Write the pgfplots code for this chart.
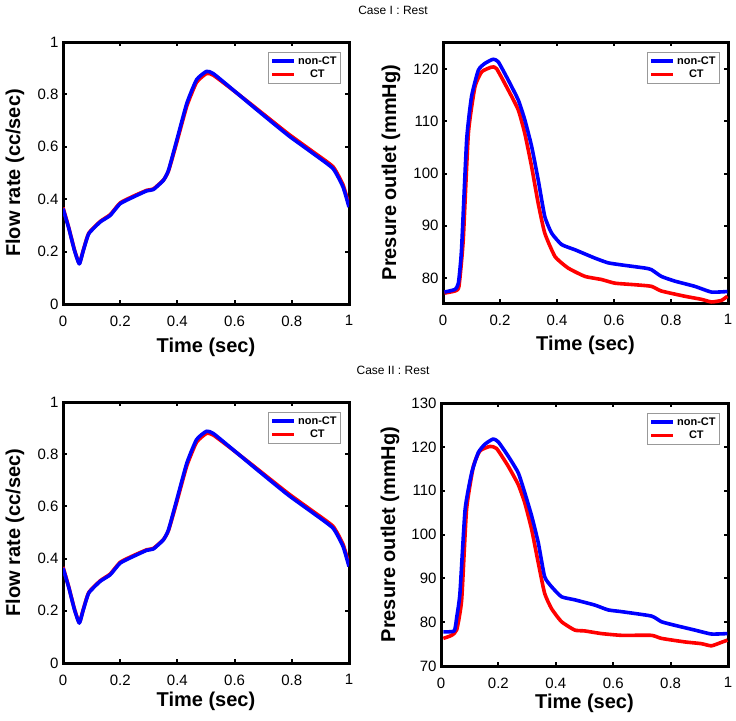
\documentclass[border=0pt]{standalone}
\usepackage{fontspec}
\setmainfont{Liberation Sans}
\usepackage{pgfplots}
\usepackage{pgfplotstable}
\pgfplotsset{compat=1.18}

% flow rate (same in both cases)
\pgfplotstableread{
t q
0.000 0.364
0.020 0.290
0.040 0.205
0.057 0.153
0.070 0.200
0.090 0.268
0.130 0.313
0.165 0.338
0.200 0.383
0.247 0.409
0.293 0.432
0.316 0.437
0.351 0.472
0.369 0.511
0.398 0.626
0.433 0.766
0.467 0.856
0.502 0.888
0.526 0.879
0.595 0.817
0.665 0.753
0.735 0.690
0.793 0.639
0.874 0.575
0.944 0.517
0.979 0.447
1.000 0.370
}\flownon
\pgfplotstableread{
t q
0.000 0.368
0.020 0.292
0.040 0.207
0.057 0.155
0.070 0.202
0.090 0.270
0.130 0.315
0.165 0.341
0.200 0.386
0.247 0.412
0.293 0.434
0.316 0.439
0.351 0.473
0.369 0.508
0.398 0.618
0.433 0.756
0.467 0.846
0.502 0.880
0.526 0.873
0.595 0.816
0.665 0.756
0.735 0.695
0.793 0.645
0.874 0.581
0.944 0.524
0.979 0.455
1.000 0.378
}\flowct

% Case I pressure
\pgfplotstableread{
t p
0.005 77.3
0.042 77.8
0.054 79.0
0.065 85.4
0.083 106.4
0.100 114.7
0.124 119.8
0.147 121.1
0.176 121.9
0.194 121.4
0.229 117.9
0.264 114.1
0.287 110.3
0.311 105.2
0.334 98.8
0.357 91.8
0.381 88.6
0.416 86.4
0.463 85.4
0.533 83.8
0.579 82.9
0.626 82.5
0.708 81.9
0.731 81.6
0.766 80.3
0.813 79.4
0.883 78.4
0.942 77.3
0.998 77.4
}\presAnon
\pgfplotstableread{
t p
0.005 77.1
0.042 77.5
0.056 78.4
0.071 87.3
0.089 107.7
0.112 116.6
0.136 119.5
0.171 120.4
0.188 120.1
0.229 116.0
0.264 112.2
0.287 107.7
0.311 101.3
0.334 94.3
0.357 88.6
0.393 84.1
0.439 81.9
0.498 80.3
0.556 79.7
0.603 79.0
0.673 78.7
0.731 78.4
0.766 77.5
0.848 76.5
0.907 75.9
0.942 75.4
0.977 75.7
0.998 76.5
}\presAct

% Case II pressure
\pgfplotstableread{
t p
0.008 77.8
0.046 78.0
0.055 81.2
0.066 86.6
0.084 105.7
0.107 114.1
0.130 118.7
0.153 120.6
0.182 121.8
0.200 121.1
0.234 117.9
0.269 114.1
0.292 109.5
0.316 104.2
0.339 98.1
0.361 90.4
0.385 88.1
0.420 85.8
0.466 85.1
0.536 83.9
0.582 82.8
0.629 82.4
0.733 81.4
0.768 80.1
0.814 79.3
0.884 78.2
0.942 77.3
0.998 77.4
}\presBnon
\pgfplotstableread{
t p
0.008 76.3
0.037 77.0
0.055 78.3
0.072 85.1
0.089 105.7
0.113 115.6
0.136 119.1
0.171 120.1
0.194 119.6
0.234 115.6
0.269 111.4
0.292 107.2
0.316 101.1
0.339 93.5
0.361 86.6
0.385 83.1
0.420 80.1
0.466 78.2
0.501 78.0
0.559 77.4
0.629 77.0
0.733 77.0
0.768 76.3
0.849 75.5
0.907 75.1
0.942 74.6
0.977 75.4
0.998 75.9
}\presBct

\newcommand\labfont{\bfseries\fontsize{20}{21}\selectfont}

\pgfplotsset{
  panel/.style={
    scale only axis,
    anchor=south west,
    xmin=0, xmax=1,
    xtick={0,0.2,0.4,0.6,0.8,1},
    tick align=inside,
    xtick pos=both, ytick pos=both,
    major tick length=4pt,
    tick style={black, line width=2pt},
    axis line style={black, line width=3pt},
    /pgf/number format/assume math mode=true,
    /pgf/number format/fixed,
    ticklabel style={font=\fontsize{15}{15}\selectfont},
    xticklabel style={yshift=-8pt},
    yticklabel style={xshift=-1pt},
    xlabel={Time (sec)},
    legend style={at={(1,1)}, anchor=north east, xshift=-8pt, yshift=-10pt,
      draw=gray!80, line width=0.8pt, inner sep=2pt, row sep=0.5pt,
      font=\bfseries\fontsize{11}{12}\selectfont, cells={anchor=center}},
    legend image code/.code={\draw[#1] (0pt,0pt) -- (22pt,0pt);},
    reverse legend,
  },
  non/.style={blue, line width=3.6pt, line join=round, smooth, tension=0.3},
  ct/.style={red, line width=3.6pt, line join=round, smooth, tension=0.3},
}

\begin{document}
\begin{tikzpicture}
\path[use as bounding box] (0pt,0pt) rectangle (736pt,-720pt);

\node[font=\fontsize{12}{14}\selectfont] at (393pt,-10pt) {Case I : Rest};
\node[font=\fontsize{12}{14}\selectfont] at (393pt,-370pt) {Case II : Rest};

\begin{axis}[panel, at={(63pt,-304pt)}, width=286pt, height=262pt,
  ymin=0, ymax=1, ytick={0,0.2,0.4,0.6,0.8,1},
  xlabel style={at={(axis description cs:0.5,0)}, anchor=center, yshift=-43pt, font=\labfont},
  ylabel style={at={(axis description cs:0,0.5)}, anchor=center, yshift=48pt, font=\labfont},
  ylabel={Flow rate (cc/sec)}]
  \addplot[ct] table[x=t, y=q] {\flowct};
  \addlegendentry{CT}
  \addplot[non] table[x=t, y=q] {\flownon};
  \addlegendentry{non-CT}
\end{axis}

\begin{axis}[panel, at={(443pt,-303pt)}, width=285pt, height=261pt,
  ymin=75.2, ymax=125.2, ytick={80,90,100,110,120},
  xlabel style={at={(axis description cs:0.5,0)}, anchor=center, yshift=-42pt, font=\labfont},
  ylabel style={at={(axis description cs:0,0.5)}, anchor=center, yshift=52pt, font=\labfont},
  ylabel={Presure outlet (mmHg)}]
  \addplot[ct] table[x=t, y=p] {\presAct};
  \addlegendentry{CT}
  \addplot[non] table[x=t, y=p] {\presAnon};
  \addlegendentry{non-CT}
\end{axis}

\begin{axis}[panel, at={(63pt,-663pt)}, width=286pt, height=261pt,
  ymin=0, ymax=1, ytick={0,0.2,0.4,0.6,0.8,1},
  xlabel style={at={(axis description cs:0.5,0)}, anchor=center, yshift=-38pt, font=\labfont},
  ylabel style={at={(axis description cs:0,0.5)}, anchor=center, yshift=48pt, font=\labfont},
  ylabel={Flow rate (cc/sec)}]
  \addplot[ct] table[x=t, y=q] {\flowct};
  \addlegendentry{CT}
  \addplot[non] table[x=t, y=q] {\flownon};
  \addlegendentry{non-CT}
\end{axis}

\begin{axis}[panel, at={(441pt,-666pt)}, width=287pt, height=263pt,
  ymin=70, ymax=130, ytick={70,80,90,100,110,120,130},
  xlabel style={at={(axis description cs:0.5,0)}, anchor=center, yshift=-37pt, font=\labfont},
  ylabel style={at={(axis description cs:0,0.5)}, anchor=center, yshift=51pt, font=\labfont},
  ylabel={Presure outlet (mmHg)}]
  \addplot[ct] table[x=t, y=p] {\presBct};
  \addlegendentry{CT}
  \addplot[non] table[x=t, y=p] {\presBnon};
  \addlegendentry{non-CT}
\end{axis}
\end{tikzpicture}
\end{document}
